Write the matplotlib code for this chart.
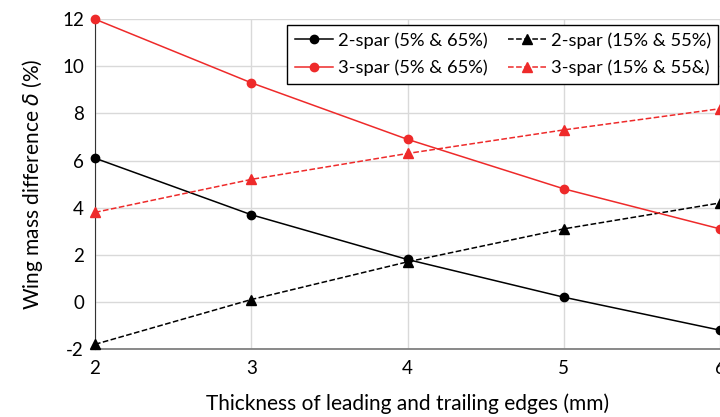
import matplotlib
matplotlib.use("Agg")
import matplotlib.pyplot as plt

plt.rcParams['font.family'] = ['Lato', 'DejaVu Sans']
plt.rcParams['axes.unicode_minus'] = False

thickness = [2, 3, 4, 5, 6]
two_spar_5_65 = [6.1, 3.7, 1.8, 0.2, -1.2]
two_spar_15_55 = [-1.8, 0.1, 1.7, 3.1, 4.2]
three_spar_5_65 = [12.0, 9.3, 6.9, 4.8, 3.1]
three_spar_15_55 = [3.8, 5.2, 6.3, 7.3, 8.2]
labels = ["2-spar (5% & 65%)", "2-spar (15% & 55%)",
          "3-spar (5% & 65%)", "3-spar (15% & 55&)"]
xticks = [2, 3, 4, 5, 6]
yticks = [-2, 0, 2, 4, 6, 8, 10, 12]

fig = plt.figure(figsize=(7.2, 4.17), dpi=100)
ax = fig.add_axes([0.132, 0.163, 0.868, 0.791])

red = '#ee2a2a'
h1, = ax.plot(thickness, two_spar_5_65, '-', color='black', marker='o', ms=6, lw=1.1, clip_on=False, zorder=3)
h2, = ax.plot(thickness, two_spar_15_55, '--', color='black', marker='^', ms=6.5, lw=1.1, clip_on=False, zorder=3)
h3, = ax.plot(thickness, three_spar_5_65, '-', color=red, marker='o', ms=6, lw=1.1, clip_on=False, zorder=3)
h4, = ax.plot(thickness, three_spar_15_55, '--', color=red, marker='^', ms=6.5, lw=1.1, clip_on=False, zorder=3)

ax.set_xlim(2, 6)
ax.set_ylim(-2, 12)
ax.set_xticks(xticks)
ax.set_yticks(yticks)
ax.grid(True, color='#d9d9d9', lw=1)
ax.set_axisbelow(True)
for s in ['top', 'right']:
    ax.spines[s].set_visible(False)
ax.spines['left'].set_color('#333333')
ax.spines['bottom'].set_color('#808080')
ax.spines['bottom'].set_linewidth(1.3)
ax.tick_params(length=0, labelsize=13.5, pad=8)
ax.set_xlabel("Thickness of leading and trailing edges (mm)", fontsize=15, labelpad=12)
ax.set_ylabel(r"Wing mass difference $\it{\delta}$ (%)", fontsize=15, labelpad=12)

leg = ax.legend([h1, h3, h2, h4], [labels[0], labels[2], labels[1], labels[3]],
                ncol=2, loc='upper right',
                bbox_to_anchor=(0.9975, 0.983), fontsize=13.2, frameon=True,
                fancybox=False, edgecolor='black', framealpha=1,
                handlelength=2.1, columnspacing=1.1, borderpad=0.4,
                labelspacing=0.6, handletextpad=0.25, borderaxespad=0)
leg.get_frame().set_linewidth(1.0)

fig.savefig("out.png", dpi=100)
